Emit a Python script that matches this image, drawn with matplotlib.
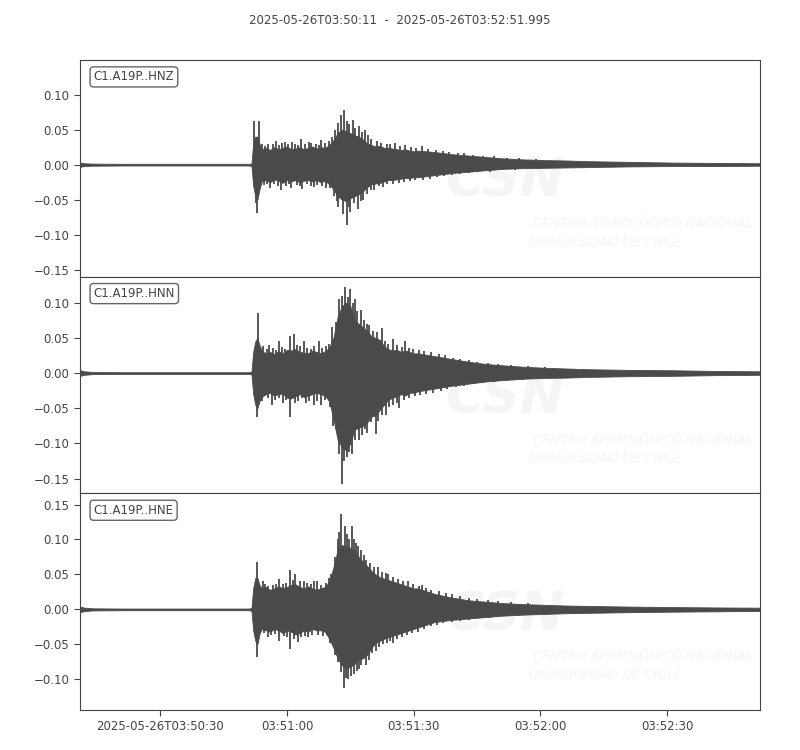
import numpy as np
import matplotlib
matplotlib.use('Agg')
import matplotlib.pyplot as plt
import matplotlib.dates as mdates
from matplotlib.ticker import MultipleLocator, FuncFormatter

START = np.datetime64('2025-05-26T03:50:11.000')
DURATION = 160.995  # seconds, end 03:52:51.995

channels = ['C1.A19P..HNZ', 'C1.A19P..HNN', 'C1.A19P..HNE']
ylims = [(-0.16, 0.1495), (-0.171, 0.137), (-0.144, 0.166)]

# envelope knots (seconds after START), amplitudes in units of 1e-3
t_env = [0, 1, 3, 10, 20, 30, 40, 40.6, 41, 41.5, 42, 42.5,
         43, 44, 45, 46, 47, 48, 49, 50, 51, 52, 53, 54, 55, 56, 57, 58, 59,
         60, 61, 62, 63, 64, 65, 66, 67, 68, 69, 70, 71, 72, 73, 74, 75, 76, 77, 78, 79, 80,
         84, 88, 92, 96, 100, 105, 110, 115, 120, 130, 140, 150, 161]

hnz_up = [3, 2, 1.5, 1.2, 1.2, 1.2, 1.2, 1.5, 30, 40, 40, 30,
          22, 24, 21, 25, 22, 24, 26, 22, 23, 25, 22, 24, 26, 23, 25, 24, 28,
          35, 45, 50, 48, 45, 42, 40, 36, 30, 28, 26, 27, 24, 24, 23, 22, 21, 22, 20, 19, 20,
          18, 15, 13, 11, 9, 7.5, 6.5, 6, 5, 4, 3, 2.5, 2]
hnz_lo = [-3, -2, -1.5, -1.2, -1.2, -1.2, -1.2, -2, -30, -45, -50, -35,
          -24, -22, -25, -21, -23, -26, -22, -24, -22, -25, -23, -22, -24, -22, -25, -23, -28,
          -35, -45, -50, -52, -48, -45, -42, -38, -32, -28, -27, -26, -24, -22, -22, -21, -20, -19, -19, -18, -18,
          -15, -12, -10, -8, -6, -5, -4.5, -4, -3.5, -2.5, -2, -2, -1.5]

hnn_up = [4, 2.5, 1.5, 1.2, 1.2, 1.2, 1.2, 2, 30, 45, 50, 40,
          32, 28, 30, 27, 31, 28, 33, 32, 34, 30, 29, 28, 32, 30, 28, 31, 36,
          50, 80, 95, 100, 95, 75, 70, 65, 60, 52, 50, 47, 38, 34, 32, 33, 30, 32, 30, 28, 28,
          24, 20, 16, 13, 11, 9, 7.5, 6.5, 5.5, 4.5, 4, 3, 2.5]
hnn_lo = [-4, -2.5, -1.5, -1.2, -1.2, -1.2, -1.2, -2, -30, -45, -50, -40,
          -34, -30, -28, -32, -30, -29, -35, -36, -33, -30, -34, -32, -30, -28, -30, -32, -40,
          -65, -95, -105, -110, -100, -80, -78, -75, -70, -62, -60, -52, -45, -38, -35, -33, -30, -32, -28, -28, -26,
          -22, -18, -15, -12, -10, -8, -7, -6.5, -5.5, -4.5, -4, -3, -2.5]

hne_up = [4, 2.5, 1.5, 1.2, 1.2, 1.2, 1.2, 2, 30, 45, 45, 35,
          30, 32, 28, 30, 33, 30, 32, 35, 36, 32, 30, 33, 30, 28, 30, 32, 40,
          60, 85, 92, 90, 88, 85, 75, 68, 62, 55, 50, 46, 44, 42, 40, 38, 36, 34, 32, 30, 30,
          22, 17, 13, 11, 9, 7.5, 6.5, 5.5, 5, 4, 3.3, 2.8, 2.4]
hne_lo = [-4, -2.5, -1.5, -1.2, -1.2, -1.2, -1.2, -2, -30, -45, -50, -35,
          -28, -30, -32, -28, -30, -34, -30, -32, -36, -34, -30, -32, -28, -30, -30, -32, -42,
          -55, -70, -80, -85, -82, -78, -72, -70, -65, -55, -48, -45, -42, -40, -38, -36, -34, -32, -30, -28, -26,
          -18, -15, -13, -11, -9, -7.5, -6.5, -5.5, -5, -4, -3.3, -2.8, -2.2]

# single peaks sticking out of the envelope: (seconds after START, amplitude)
hnz_peaks = [
    (41.3, 0.062), (42.3, 0.062), (43.2, 0.029), (43.9, 0.027), (44.5, 0.030), (45.6, 0.030), (46.3, 0.034),
    (47.0, 0.028), (47.9, 0.031), (48.5, 0.032), (49.3, 0.029), (50.1, 0.033), (51.0, 0.030), (51.7, 0.028),
    (52.4, 0.036), (53.3, 0.029), (54.1, 0.032), (54.8, 0.031), (55.9, 0.030), (56.5, 0.028), (57.1, 0.035),
    (58.0, 0.031), (59.0, 0.034), (59.6, 0.040), (60.4, 0.050), (61.0, 0.060), (61.8, 0.071), (62.6, 0.078),
    (63.3, 0.062), (63.8, 0.058), (64.6, 0.064), (65.2, 0.052), (66.0, 0.055), (66.7, 0.046), (67.5, 0.050),
    (68.2, 0.042), (69.0, 0.036), (70.3, 0.034), (71.2, 0.031), (72.6, 0.030), (73.4, 0.029), (74.5, 0.031),
    (75.8, 0.027), (77.0, 0.028), (78.4, 0.025), (79.5, 0.024), (81.0, 0.026), (82.5, 0.022), (84.3, 0.021),
    (86.0, 0.020), (87.4, 0.018), (89.5, 0.017), (91.0, 0.016), (93.0, 0.014), (95.5, 0.013), (98.0, 0.012),
    (101.0, 0.010), (104.0, 0.009), (108.0, 0.008),
    (41.7, -0.055), (42.0, -0.069), (43.5, -0.029), (44.3, -0.027), (45.0, -0.034), (46.0, -0.028),
    (46.8, -0.030), (47.5, -0.036), (48.8, -0.030), (49.6, -0.028), (50.0, -0.033), (51.3, -0.029),
    (52.0, -0.031), (52.6, -0.035), (53.8, -0.028), (54.6, -0.030), (55.5, -0.032), (56.2, -0.029),
    (57.3, -0.031), (58.3, -0.033), (59.2, -0.034), (60.1, -0.045), (60.8, -0.052), (61.2, -0.060),
    (62.2, -0.070), (63.1, -0.086), (63.7, -0.060), (64.0, -0.068), (64.8, -0.055), (65.8, -0.064),
    (66.5, -0.052), (67.0, -0.050), (68.0, -0.042), (68.8, -0.036), (69.5, -0.036), (70.8, -0.031),
    (71.8, -0.032), (72.8, -0.028), (74.2, -0.027), (75.6, -0.026), (76.8, -0.025), (78.2, -0.023),
    (79.4, -0.022), (81.2, -0.022), (82.8, -0.020), (84.6, -0.018), (86.2, -0.016), (88.0, -0.015),
    (90.0, -0.013), (92.0, -0.012), (94.0, -0.011), (97.0, -0.010), (100.0, -0.008), (103.0, -0.007),
]

hnn_peaks = [
    (42.1, 0.085), (43.4, 0.038), (44.2, 0.034), (44.8, 0.040), (45.7, 0.036), (46.5, 0.033), (47.0, 0.045),
    (47.8, 0.037), (48.6, 0.034), (49.8, 0.053), (50.6, 0.055), (51.4, 0.040), (52.2, 0.038), (53.0, 0.045),
    (53.8, 0.036), (54.6, 0.034), (55.5, 0.038), (56.5, 0.045), (57.3, 0.036), (58.2, 0.038), (59.0, 0.042),
    (59.7, 0.066), (60.6, 0.072), (61.3, 0.105), (62.0, 0.110), (62.8, 0.123), (63.4, 0.108), (64.0, 0.120),
    (64.6, 0.100), (65.0, 0.105), (65.6, 0.088), (66.6, 0.090), (67.2, 0.075), (68.0, 0.070), (68.5, 0.068),
    (69.3, 0.060), (70.4, 0.058), (71.5, 0.064), (72.2, 0.046), (73.0, 0.042), (74.0, 0.048), (75.0, 0.040),
    (76.2, 0.037), (77.0, 0.045), (77.8, 0.036), (78.8, 0.034), (80.2, 0.033), (81.5, 0.032), (83.0, 0.030),
    (85.0, 0.027), (86.5, 0.025), (88.4, 0.022), (90.0, 0.020), (92.2, 0.018), (94.0, 0.016), (96.5, 0.015),
    (99.0, 0.013), (102.0, 0.011), (106.0, 0.010), (110.0, 0.009),
    (42.0, -0.062), (43.2, -0.040), (44.4, -0.036), (45.5, -0.045), (46.2, -0.038), (47.2, -0.035),
    (48.0, -0.042), (48.8, -0.038), (49.8, -0.062), (50.8, -0.042), (51.6, -0.040), (52.6, -0.036),
    (53.5, -0.043), (54.2, -0.040), (55.4, -0.046), (56.2, -0.040), (57.0, -0.045), (58.0, -0.038),
    (59.2, -0.048), (60.0, -0.075), (60.5, -0.080), (61.3, -0.115), (62.0, -0.157), (62.6, -0.125),
    (63.2, -0.120), (63.8, -0.112), (64.5, -0.115), (65.2, -0.095), (66.0, -0.095), (66.8, -0.088),
    (67.4, -0.080), (68.0, -0.085), (69.0, -0.070), (70.0, -0.086), (70.6, -0.068), (71.4, -0.060),
    (72.5, -0.060), (73.2, -0.048), (74.2, -0.045), (75.0, -0.042), (75.5, -0.050), (76.8, -0.038),
    (78.0, -0.035), (79.2, -0.033), (80.6, -0.031), (82.0, -0.030), (83.5, -0.028), (85.5, -0.025),
    (87.0, -0.023), (89.0, -0.020), (91.0, -0.018), (93.0, -0.016), (95.5, -0.014), (98.0, -0.013),
    (101.0, -0.011), (105.0, -0.010),
]

hne_peaks = [
    (41.9, 0.068), (43.3, 0.040), (43.8, 0.036), (44.6, 0.034), (45.6, 0.035), (46.4, 0.037), (47.0, 0.043),
    (48.0, 0.036), (48.8, 0.038), (49.8, 0.056), (50.4, 0.042), (51.0, 0.050), (52.2, 0.040), (53.0, 0.040),
    (53.8, 0.038), (54.6, 0.036), (55.4, 0.040), (56.0, 0.040), (57.0, 0.035), (58.2, 0.038), (59.0, 0.045),
    (59.5, 0.050), (60.4, 0.075), (61.0, 0.100), (61.4, 0.110), (61.8, 0.137), (62.8, 0.120), (63.2, 0.108),
    (63.6, 0.100), (64.4, 0.120), (64.9, 0.100), (65.3, 0.095), (65.8, 0.090), (66.5, 0.085), (67.2, 0.078),
    (67.8, 0.070), (68.6, 0.066), (69.6, 0.060), (70.5, 0.060), (71.4, 0.054), (72.4, 0.052), (73.0, 0.050),
    (74.0, 0.046), (75.2, 0.044), (76.5, 0.041), (77.6, 0.040), (78.8, 0.036), (80.2, 0.034), (81.0, 0.035),
    (82.0, 0.030), (83.0, 0.028), (85.0, 0.026), (86.6, 0.024), (88.0, 0.022), (90.0, 0.019), (92.0, 0.016),
    (94.0, 0.015), (96.5, 0.013), (99.0, 0.012), (102.0, 0.010), (106.0, 0.009),
    (41.9, -0.068), (43.5, -0.034), (44.5, -0.040), (45.2, -0.036), (46.2, -0.035), (47.0, -0.045),
    (48.2, -0.038), (49.0, -0.040), (49.8, -0.056), (50.6, -0.042), (51.5, -0.047), (52.4, -0.040),
    (53.2, -0.038), (54.0, -0.040), (55.0, -0.036), (56.4, -0.037), (57.5, -0.038), (58.5, -0.036),
    (59.2, -0.048), (60.3, -0.065), (61.2, -0.075), (61.8, -0.090), (62.5, -0.113), (62.9, -0.098),
    (63.5, -0.100), (64.2, -0.095), (64.8, -0.092), (65.5, -0.088), (66.0, -0.085), (66.6, -0.080),
    (67.8, -0.080), (68.4, -0.072), (69.2, -0.062), (70.0, -0.060), (70.8, -0.054), (71.8, -0.050),
    (72.8, -0.048), (73.5, -0.045), (74.0, -0.048), (75.0, -0.042), (76.2, -0.040), (77.5, -0.037),
    (78.6, -0.034), (80.0, -0.032), (81.5, -0.028), (83.0, -0.024), (84.5, -0.022), (86.0, -0.020),
    (88.0, -0.018), (90.0, -0.016), (92.0, -0.015), (94.5, -0.013), (97.0, -0.012), (100.0, -0.010),
    (104.0, -0.009),
]

traces = [(hnz_up, hnz_lo, hnz_peaks), (hnn_up, hnn_lo, hnn_peaks), (hne_up, hne_lo, hne_peaks)]

TRACE_COLOR = '#4a4a4a'
TEXT_COLOR = '#444444'
WM_COLOR = '#f5f5f5'


def to_num(seconds):
    sec = np.asarray(seconds, dtype=float)
    return mdates.date2num(START + (sec * 1000).astype('timedelta64[ms]'))


plt.rcParams['font.family'] = 'DejaVu Sans'
plt.rcParams['font.size'] = 8.5
plt.rcParams['text.color'] = TEXT_COLOR
plt.rcParams['axes.edgecolor'] = TEXT_COLOR
plt.rcParams['xtick.color'] = TEXT_COLOR
plt.rcParams['ytick.color'] = TEXT_COLOR

fig, axes = plt.subplots(3, 1, figsize=(8, 7.5), dpi=100, sharex=True)
fig.subplots_adjust(left=0.1, right=0.95, top=0.92, bottom=0.0533, hspace=0)

x_env = to_num(t_env)

for ax, name, ylim, (up, lo, peaks) in zip(axes, channels, ylims, traces):
    # faint CSN watermark
    ax.text(0.625, 0.44, 'CSN', transform=ax.transAxes, fontsize=38, fontweight='bold',
            fontstyle='italic', color=WM_COLOR, ha='center', va='center', zorder=0)
    ax.text(0.666, 0.245, 'CENTRO SISMOLÓGICO NACIONAL', transform=ax.transAxes, fontsize=9.3,
            fontstyle='italic', color=WM_COLOR, ha='left', va='center', zorder=0)
    ax.text(0.66, 0.16, 'UNIVERSIDAD DE CHILE', transform=ax.transAxes, fontsize=9.3,
            fontstyle='italic', color=WM_COLOR, ha='left', va='center', zorder=0)

    ax.fill_between(x_env, np.array(up) / 1000, np.array(lo) / 1000,
                    color=TRACE_COLOR, linewidth=0.6, zorder=2)
    pk_t = [p[0] for p in peaks]
    pk_v = [p[1] for p in peaks]
    ax.vlines(to_num(pk_t), 0, pk_v, color=TRACE_COLOR, linewidth=1.3, zorder=2)

    ax.set_ylim(*ylim)
    ax.yaxis.set_major_locator(MultipleLocator(0.05))
    ax.yaxis.set_major_formatter(FuncFormatter(lambda v, p: f'{v:.2f}'.replace('-', '\u2212')))
    ax.text(0.02, 0.922, name, transform=ax.transAxes, ha='left', va='center', fontsize=8.5,
            bbox=dict(boxstyle='round,pad=0.3', facecolor='white', edgecolor='#666666', linewidth=1.0),
            zorder=5)
    ax.tick_params(axis='both', direction='out', length=4, width=0.8)
    for sp in ax.spines.values():
        sp.set_linewidth(0.8)

axes[-1].set_xlim(to_num(0), to_num(DURATION))
axes[-1].xaxis.set_major_locator(mdates.SecondLocator(bysecond=[0, 30]))


def fmt_time(x, pos):
    d = mdates.num2date(x)
    if pos == 0:
        return d.strftime('%Y-%m-%dT%H:%M:%S')
    return d.strftime('%H:%M:%S')


axes[-1].xaxis.set_major_formatter(FuncFormatter(fmt_time))

fig.text(0.5, 0.973, '2025-05-26T03:50:11  -  2025-05-26T03:52:51.995', ha='center', va='center',
         fontsize=8.5, color=TEXT_COLOR)

fig.savefig('out.png', dpi=100)
